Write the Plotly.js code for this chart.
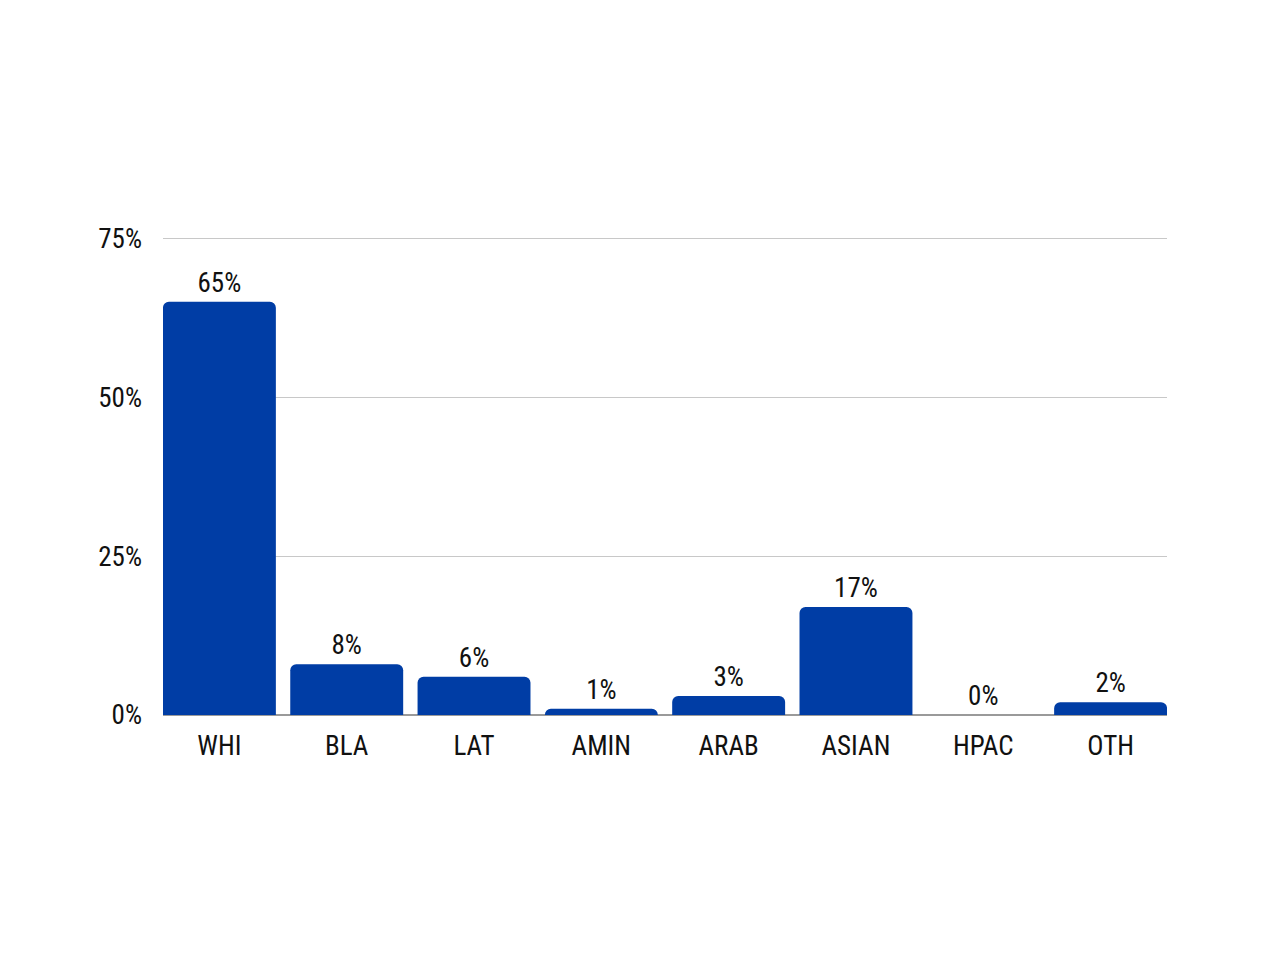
<!DOCTYPE html>
<html>
<head>
<meta charset="utf-8">
<script src="https://cdn.plot.ly/plotly-3.0.1.min.js"></script>
<style>
  html, body { margin: 0; padding: 0; background: #fff; }
  #plot { width: 1280px; height: 960px; }
</style>
</head>
<body>
<div id="plot"></div>
<script>
// group shares, in percent
var groups = ["WHI", "BLA", "LAT", "AMIN", "ARAB", "ASIAN", "HPAC", "OTH"];
var shares = [65, 8, 6, 1, 3, 17, 0, 2];
var shareLabels = shares.map(v => v + "%");
var yTicks = [0, 25, 50, 75];
var yTickText = ["0%", "25%", "50%", "75%"];

var fontFam = "'Roboto Condensed', 'Roboto', sans-serif";

var trace = {
    x: groups,
    y: shares,
    type: "bar",
    text: shareLabels,
    textposition: "outside",
    cliponaxis: false,
    textfont: { family: fontFam, size: 27, color: "#111" },
    marker: { color: "#003da5", cornerradius: 6 },
    hoverinfo: "none"
};

var layout = {
    width: 1280,
    height: 960,
    margin: { l: 163, r: 113, t: 237, b: 245 },
    paper_bgcolor: "#fff",
    plot_bgcolor: "#fff",
    showlegend: false,
    bargap: 0.113,
    font: { family: fontFam, size: 27, color: "#111" },
    xaxis: {
        range: [-0.443, 7.443],
        showgrid: false,
        showline: false,
        ticks: "",
        ticklabelstandoff: 12,
        tickfont: { family: fontFam, size: 27, color: "#111" },
        fixedrange: true
    },
    yaxis: {
        range: [0, 75.2],
        tickvals: yTicks,
        ticktext: yTickText,
        showgrid: true,
        gridcolor: "#c8c8c8",
        gridwidth: 1,
        zeroline: true,
        zerolinecolor: "#9a9a9a",
        zerolinewidth: 2,
        showline: false,
        ticks: "",
        ticklabelstandoff: 20,
        tickfont: { family: fontFam, size: 27, color: "#111" },
        fixedrange: true
    }
};

Plotly.newPlot("plot", [trace], layout, { displayModeBar: false, staticPlot: true });
</script>
</body>
</html>
